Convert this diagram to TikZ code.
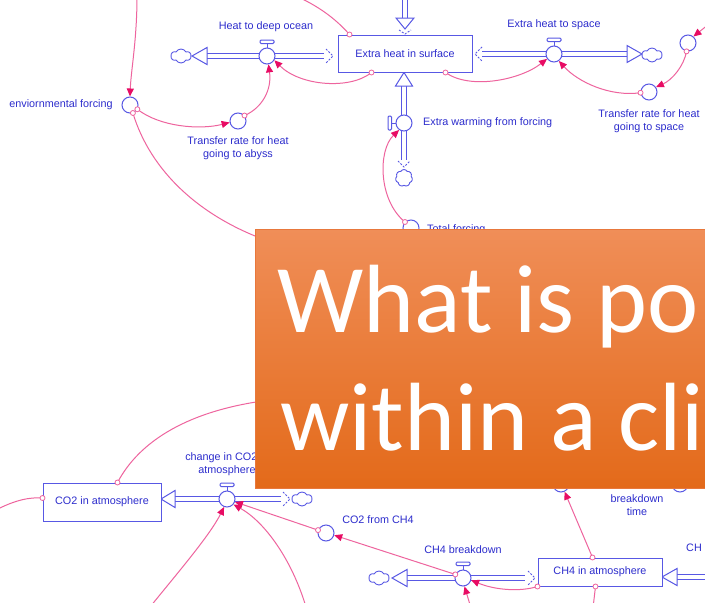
\documentclass[tikz,border=0pt]{standalone}
\usepackage{fontspec}
\setmainfont{Liberation Sans}
\newfontfamily\calib{Carlito}
\usetikzlibrary{arrows.meta,shapes.symbols,calc}
\pgfdeclarelayer{bg}
\pgfsetlayers{bg,main}
\definecolor{vblue}{RGB}{88,88,228}
\definecolor{vtext}{RGB}{45,45,205}
\definecolor{plink}{RGB}{238,100,158}
\definecolor{parrow}{RGB}{232,12,100}
\definecolor{otop}{RGB}{240,142,88}
\definecolor{omid}{RGB}{241,124,40}
\definecolor{obot}{RGB}{227,106,26}
\definecolor{oedge}{RGB}{232,120,60}
\tikzset{
 lbl/.style={text=vtext, font=\fontsize{10.8}{13}\selectfont, inner sep=0pt, align=center},
 stock/.style={draw=vblue, line width=1pt, fill=white, text=vtext, font=\fontsize{10.8}{13}\selectfont, inner sep=0pt},
 aux/.style={circle, draw=vblue, line width=1pt, fill=white, minimum size=16pt, inner sep=0pt},
 vline/.style={draw=vblue, line width=1pt},
 pipe/.style={draw=vblue, line width=1pt, double=white, double distance=4pt},
 tri/.style={draw=vblue, line width=1pt, fill=white, line join=miter},
 chev/.style={draw=vblue, line width=0.9pt, dash pattern=on 2pt off 1.5pt},
 cloudn/.style={cloud, cloud puffs=6, cloud puff arc=120, aspect=1.4, draw=vblue, line width=0.9pt, fill=white, minimum width=20pt, minimum height=14pt, inner sep=0pt},
 infl/.style={draw=plink, line width=1pt, -{Triangle[length=8pt,width=7pt,color=parrow]}},
 linkn/.style={draw=plink, line width=1pt},
 orig/.style={circle, draw=plink, line width=0.8pt, fill=white, minimum size=5pt, inner sep=0pt},
 bigtxt/.style={anchor=base west, inner sep=0pt, text=white, font=\calib\fontsize{97}{116}\selectfont},
}
\newcommand\hhandle[1]{%
 \draw[vline] (#1.north) -- ++(0,-4);
 \draw[vline, fill=white, rounded corners=1.2pt] ($(#1.north)+(-7,-4)$) rectangle ++(14,-3.5);}
\begin{document}
\begin{tikzpicture}[x=1pt,y=-1pt]
\useasboundingbox (0,0) rectangle (705,603);
\begin{pgfonlayer}{bg}
\fill[white] (0,0) rectangle (705,603);
% pipes
\draw[pipe] (207,56) -- (324,56);
\draw[tri] (207,47.5) -- (192,56) -- (207,64.5) -- cycle;
\draw[chev] (326,49) -- (333,56) -- (326,63);
\draw[pipe] (482,54) -- (627,54);
\draw[chev] (482,47) -- (475,54) -- (482,61);
\draw[tri] (627,45.5) -- (642,54) -- (627,62.5) -- cycle;
\draw[pipe] (405,0) -- (405,18);
\draw[tri] (396,18) -- (405,29) -- (414,18) -- cycle;
\draw[chev] (399,30) -- (405,34) -- (411,30);
\draw[pipe] (404,86) -- (404,160);
\draw[tri] (395.5,86) -- (404,72.5) -- (412.5,86) -- cycle;
\draw[chev] (398,161) -- (404,167) -- (410,161);
\draw[pipe] (175,499) -- (281,499);
\draw[tri] (175,490.5) -- (161,499) -- (175,507.5) -- cycle;
\draw[chev] (283,492) -- (290,499) -- (283,506);
\draw[pipe] (407,578) -- (525,578);
\draw[tri] (407,569.5) -- (392,578) -- (407,586.5) -- cycle;
\draw[chev] (528,571) -- (535,578) -- (528,585);
\draw[pipe] (677,577) -- (705,577);
\draw[tri] (677,568.5) -- (662,577) -- (677,585.5) -- cycle;
\end{pgfonlayer}
\clip (0,0) rectangle (705,603);
% stocks
\node[stock, minimum width=134pt, minimum height=37pt] (ehs) at (405,53.5) {Extra heat in surface};
\node[stock, minimum width=118pt, minimum height=38pt] (co2) at (102,502) {CO2 in atmosphere};
\node[stock, minimum width=124pt, minimum height=28pt] (ch4) at (600,572) {CH4 in atmosphere};
% valves
\node[aux] (hdo) at (267,56) {};
\node[aux] (es) at (554,54) {};
\node[aux] (ewf) at (404,123) {};
\node[aux] (cv) at (227,499) {};
\node[aux] (chb) at (463,578) {};
\hhandle{hdo}
\hhandle{es}
\hhandle{cv}
\hhandle{chb}
\draw[vline] (ewf.west) -- ++(-4,0);
\draw[vline, fill=white, rounded corners=1.2pt] ($(ewf.west)+(-4,-7)$) rectangle ++(-3.5,14);
% auxiliaries
\node[aux] (envf) at (130,105) {};
\node[aux] (ta) at (238,121) {};
\node[aux] (tr) at (688,43) {};
\node[aux] (tsp) at (649,92) {};
\node[aux] (tf) at (411,228) {};
\node[aux] (cfc) at (326,533) {};
\node[aux] (h1) at (561,484) {};
\node[aux] (h2) at (680,484) {};
% clouds
\node[cloudn] (c1) at (181,56) {};
\node[cloudn] (c2) at (652,55) {};
\node[cloudn, cloud puffs=7, aspect=1, minimum width=17pt, minimum height=17pt] (c3) at (404,178) {};
\node[cloudn] (c4) at (302,499) {};
\node[cloudn] (c5) at (379,578) {};
% free ends
\coordinate (fa) at (137,-4);
\coordinate (fb) at (296,-4);
\coordinate (ff) at (280,245);
\coordinate (fh) at (714,20);
\coordinate (fl) at (270,400);
\coordinate (fm) at (-4,510);
\coordinate (fn) at (150,607);
\coordinate (fo) at (306,607);
\coordinate (fs) at (471,608);
\coordinate (fu) at (593,608);
% links
\draw[infl] (fa) .. controls (137,40) and (131,70) .. (envf.north);
\draw[linkn] ($(ehs.north west)+(12,0)$) .. controls (335,18) and (318,6) .. (fb);
\draw[infl] ($(ehs.south west)+(34,0)$) .. controls (350,90) and (300,86) .. (hdo.-30);
\draw[infl] (envf.-30) .. controls (160,127) and (200,130) .. (ta.190);
\draw[infl] (ta.40) .. controls (262,108) and (272,90) .. (hdo.-80);
\draw[linkn] (envf.-70) .. controls (150,170) and (200,220) .. (ff);
\draw[infl] ($(ehs.south east)+(-27,0)$) .. controls (470,90) and (520,80) .. (es.-145);
\draw[infl] (fh) -- (tr.50);
\draw[infl] (tr.-100) .. controls (684,66) and (672,80) .. (tsp.35);
\draw[infl] (tsp.185) .. controls (610,97) and (578,82) .. (es.-55);
\draw[infl] (tf.135) .. controls (378,200) and (378,150) .. (ewf.-125);
\draw[linkn] ($(co2.north west)+(75,0)$) .. controls (140,440) and (190,410) .. (fl);
\draw[linkn] ($(co2.west)+(0,-4)$) .. controls (30,497) and (15,500) .. (fm);
\draw[infl] (fn) .. controls (180,570) and (210,535) .. (cv.-110);
\draw[infl] (fo) .. controls (292,560) and (265,522) .. (cv.-40);
\draw[infl] (cfc.160) -- (cv.-20);
\draw[infl] (chb.155) -- (cfc.-15);
\draw[infl] (ch4.south west) .. controls (520,592) and (495,590) .. (chb.-15);
\draw[infl] (fs) -- (chb.-80);
\draw[infl] ($(ch4.north west)+(55,0)$) -- (h1.-65);
\draw[linkn] ($(ch4.south west)+(58,0)$) -- (fu);
% origin markers
\node[orig] (o1) at ($(ehs.north west)+(12,0)$) {};
\node[orig] (o2) at ($(ehs.south west)+(34,0)$) {};
\node[orig] (o3) at (envf.-30) {};
\node[orig] (o4) at (ta.40) {};
\node[orig] (o5) at (envf.-70) {};
\node[orig] (o6) at ($(ehs.south east)+(-27,0)$) {};
\node[orig] (o7) at (tr.-100) {};
\node[orig] (o8) at (tsp.185) {};
\node[orig] (o9) at (tf.135) {};
\node[orig] (o10) at ($(co2.north west)+(75,0)$) {};
\node[orig] (o11) at ($(co2.west)+(0,-4)$) {};
\node[orig] (o12) at (cfc.160) {};
\node[orig] (o13) at (chb.155) {};
\node[orig] (o14) at (ch4.south west) {};
\node[orig] (o15) at ($(ch4.north west)+(55,0)$) {};
\node[orig] (o16) at ($(ch4.south west)+(58,0)$) {};
% labels
\node[lbl] (l1) at (266,27) {Heat to deep ocean};
\node[lbl] (l2) at (61,105) {enviornmental forcing};
\node[lbl] (l3) at (238,148) {Transfer rate for heat\\going to abyss};
\node[lbl] (l4) at (554,25) {Extra heat to space};
\node[lbl] (l5) at (649,121) {Transfer rate for heat\\going to space};
\node[lbl, anchor=west] (l6) at (423,123) {Extra warming from forcing};
\node[lbl, anchor=west] (l7) at (427,230) {Total forcing};
\node[lbl] (l8) at (227,464) {change in CO2 in\\atmosphere};
\node[lbl] (l9) at (378,520) {CO2 from CH4};
\node[lbl] (l10) at (463,550) {CH4 breakdown};
\node[lbl] (l11) at (637,505) {breakdown\\time};
\node[lbl, anchor=west] (l12) at (686,548) {CH};
% orange overlay
\shade[top color=otop, middle color=omid, bottom color=obot] (255,229) rectangle (712,488);
\draw[oedge, line width=0.8pt] (712,229) -- (255,229) -- (255,488) -- (712,488);
\node[bigtxt] (t1) at (277,332) {What is po};
\node[bigtxt] (t2) at (280,450) {within a cli};
\end{tikzpicture}
\end{document}
